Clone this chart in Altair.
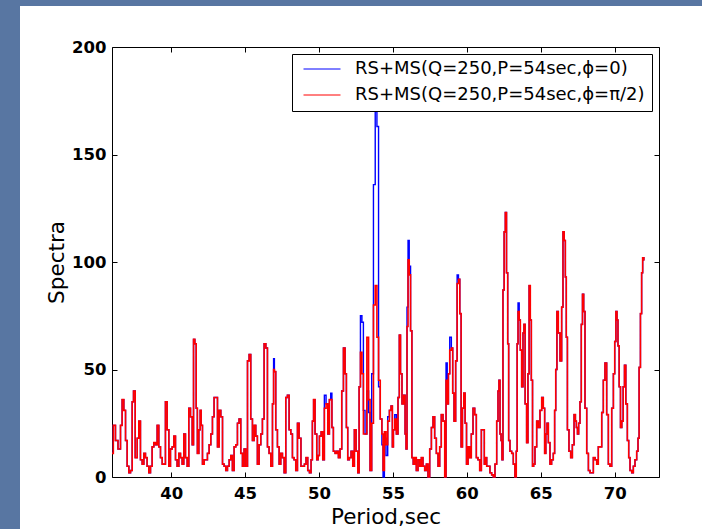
import altair as alt
import pandas as pd

# ---- data ----
period = [
    36.00, 36.18, 36.29, 36.52, 36.63, 36.74, 36.86, 36.97, 37.08, 37.20,
    37.31, 37.42, 37.49, 37.65, 37.76, 37.87, 37.98, 38.10, 38.21, 38.32,
    38.43, 38.55, 38.66, 38.77, 38.89, 39.00, 39.11, 39.22, 39.34, 39.45,
    39.56, 39.67, 39.79, 39.90, 40.01, 40.13, 40.24, 40.35, 40.46, 40.58,
    40.69, 40.80, 40.91, 41.03, 41.14, 41.25, 41.37, 41.48, 41.55, 41.66,
    41.73, 41.82, 41.93, 42.00, 42.06, 42.18, 42.29, 42.40, 42.51, 42.63,
    42.74, 42.85, 42.96, 43.08, 43.19, 43.30, 43.42, 43.53, 43.64, 43.75,
    43.87, 43.98, 44.09, 44.20, 44.32, 44.43, 44.54, 44.65, 44.77, 44.88,
    44.99, 45.11, 45.22, 45.33, 45.44, 45.56, 45.67, 45.78, 45.89, 46.01,
    46.12, 46.23, 46.35, 46.46, 46.57, 46.68, 46.80, 46.91, 46.95, 47.02,
    47.13, 47.25, 47.36, 47.47, 47.59, 47.70, 47.81, 47.92, 48.04, 48.15,
    48.26, 48.37, 48.49, 48.60, 48.71, 48.85, 48.96, 49.07, 49.18, 49.30,
    49.41, 49.52, 49.59, 49.68, 49.79, 49.91, 49.97, 50.09, 50.20, 50.31,
    50.42, 50.54, 50.65, 50.76, 50.83, 50.92, 51.03, 51.15, 51.26, 51.37,
    51.48, 51.60, 51.71, 51.82, 51.89, 52.00, 52.11, 52.23, 52.34, 52.45,
    52.57, 52.68, 52.75, 52.86, 52.95, 53.06, 53.17, 53.31, 53.40, 53.51,
    53.62, 53.75, 53.86, 53.98, 54.08, 54.21, 54.30, 54.37, 54.48, 54.59,
    54.71, 54.82, 54.93, 55.00, 55.07, 55.18, 55.29, 55.40, 55.47, 55.56,
    55.67, 55.79, 55.86, 55.92, 55.99, 56.06, 56.15, 56.24, 56.33, 56.42,
    56.53, 56.64, 56.76, 56.87, 56.98, 57.09, 57.21, 57.32, 57.43, 57.55,
    57.66, 57.77, 57.88, 58.00, 58.11, 58.22, 58.33, 58.45, 58.56, 58.63,
    58.72, 58.79, 58.90, 59.01, 59.08, 59.19, 59.30, 59.39, 59.48, 59.57,
    59.66, 59.75, 59.84, 59.93, 60.03, 60.14, 60.25, 60.36, 60.48, 60.59,
    60.70, 60.81, 60.93, 61.04, 61.15, 61.22, 61.29, 61.40, 61.51, 61.62,
    61.74, 61.85, 61.96, 62.08, 62.14, 62.21, 62.28, 62.35, 62.41, 62.48,
    62.57, 62.64, 62.73, 62.80, 62.86, 62.98, 63.09, 63.20, 63.31, 63.38,
    63.43, 63.50, 63.59, 63.65, 63.77, 63.83, 63.90, 63.99, 64.10, 64.17,
    64.26, 64.33, 64.40, 64.49, 64.55, 64.67, 64.78, 64.89, 65.01, 65.12,
    65.23, 65.30, 65.39, 65.46, 65.57, 65.68, 65.79, 65.91, 65.97, 66.06,
    66.13, 66.25, 66.36, 66.47, 66.54, 66.63, 66.70, 66.76, 66.85, 66.97,
    67.08, 67.20, 67.31, 67.38, 67.44, 67.53, 67.60, 67.71, 67.78, 67.87,
    67.94, 68.05, 68.17, 68.28, 68.39, 68.50, 68.62, 68.73, 68.84, 68.95,
    69.07, 69.18, 69.29, 69.40, 69.52, 69.63, 69.74, 69.86, 69.97, 70.04,
    70.13, 70.19, 70.26, 70.35, 70.44, 70.53, 70.62, 70.71, 70.80, 70.92,
    70.98, 71.10, 71.21, 71.32, 71.43, 71.55, 71.61, 71.70, 71.79, 71.86,
    71.93, 72.02,
]

# phi = 0 (blue)
spectra_phi0 = [
    11, 24, 17, 13, 24, 36, 31, 17, 5, 2,
    3, 35, 40, 9, 18, 26, 8, 6, 11, 9,
    5, 2, 5, 14, 16, 15, 24, 14, 9, 6,
    6, 35, 22, 5, 13, 14, 19, 8, 5, 11,
    9, 6, 20, 9, 5, 32, 28, 15, 64, 62,
    32, 11, 22, 31, 24, 6, 8, 8, 11, 15,
    20, 28, 37, 37, 14, 31, 28, 6, 5, 3,
    5, 8, 10, 3, 14, 15, 25, 27, 11, 5,
    13, 5, 54, 57, 27, 17, 24, 19, 6, 15,
    20, 27, 62, 60, 14, 11, 5, 34, 55, 49,
    22, 14, 6, 11, 9, 2, 37, 38, 22, 20,
    9, 8, 3, 25, 18, 5, 5, 6, 9, 3,
    2, 8, 26, 36, 20, 8, 10, 19, 21, 8,
    38, 34, 20, 36, 39, 23, 12, 11, 12, 9,
    13, 40, 60, 48, 23, 8, 9, 12, 5, 22,
    12, 2, 42, 75, 72, 31, 20, 40, 30, 3,
    48, 136, 170, 163, 42, 27, 15, 0, 18, 10,
    28, 31, 33, 14, 22, 29, 20, 37, 66, 48,
    34, 38, 20, 13, 79, 110, 98, 68, 9, 6,
    9, 3, 8, 5, 9, 5, 3, 6, 0, 13,
    23, 28, 18, 11, 5, 14, 29, 26, 0, 53,
    34, 48, 65, 60, 39, 26, 54, 94, 92, 76,
    14, 32, 39, 25, 6, 14, 9, 20, 32, 29,
    9, 8, 3, 22, 22, 6, 9, 5, 5, 2,
    1, 0, 6, 26, 40, 45, 20, 17, 8, 87,
    114, 123, 95, 62, 17, 12, 11, 6, 0, 12,
    62, 81, 73, 59, 42, 67, 71, 34, 16, 48,
    89, 73, 45, 5, 6, 14, 26, 23, 31, 37,
    32, 11, 20, 25, 16, 6, 8, 11, 31, 50,
    77, 67, 54, 79, 114, 110, 93, 65, 22, 12,
    9, 15, 29, 26, 23, 20, 25, 35, 71, 85,
    77, 32, 11, 3, 2, 2, 9, 8, 6, 14,
    14, 30, 45, 53, 29, 6, 5, 32, 48, 63,
    77, 73, 61, 42, 23, 26, 42, 52, 34, 17,
    9, 3, 2, 5, 8, 12, 18, 51, 76, 95,
    102, 101,
]

# phi = pi/2 (red)
spectra_phi_half_pi = [
    11, 24, 17, 13, 24, 36, 31, 17, 5, 2,
    3, 35, 40, 9, 18, 26, 8, 6, 11, 9,
    5, 2, 5, 14, 16, 15, 24, 14, 9, 6,
    6, 35, 22, 5, 13, 14, 19, 8, 5, 11,
    9, 6, 20, 9, 5, 32, 28, 15, 64, 62,
    32, 11, 22, 31, 24, 6, 8, 8, 11, 15,
    20, 28, 37, 37, 14, 31, 28, 6, 5, 3,
    5, 8, 10, 3, 14, 15, 25, 27, 11, 5,
    13, 5, 54, 57, 27, 17, 24, 19, 6, 15,
    20, 27, 62, 60, 14, 11, 5, 34, 50, 49,
    22, 14, 6, 11, 9, 2, 37, 38, 22, 20,
    9, 8, 3, 25, 18, 5, 5, 6, 9, 3,
    2, 8, 26, 36, 20, 8, 10, 19, 21, 8,
    32, 34, 20, 36, 36, 23, 12, 11, 12, 9,
    13, 40, 60, 48, 23, 8, 9, 12, 5, 22,
    12, 2, 42, 58, 48, 20, 20, 65, 36, 3,
    25, 80, 89, 65, 45, 27, 20, 3, 21, 15,
    26, 31, 33, 14, 22, 27, 20, 37, 66, 48,
    34, 38, 20, 13, 70, 101, 94, 68, 9, 6,
    9, 3, 8, 5, 9, 5, 3, 6, 0, 13,
    23, 28, 18, 11, 5, 14, 29, 26, 0, 45,
    34, 48, 59, 60, 39, 26, 54, 90, 92, 76,
    14, 32, 39, 25, 6, 14, 9, 20, 32, 29,
    9, 8, 3, 22, 22, 6, 9, 5, 5, 2,
    1, 0, 6, 26, 40, 45, 20, 17, 8, 87,
    114, 123, 95, 62, 17, 12, 11, 6, 0, 12,
    62, 77, 73, 59, 42, 67, 71, 34, 16, 48,
    89, 73, 45, 5, 6, 14, 26, 23, 31, 37,
    32, 11, 20, 25, 16, 6, 8, 11, 31, 50,
    77, 67, 54, 79, 114, 110, 93, 65, 22, 12,
    9, 15, 29, 26, 23, 20, 25, 35, 71, 85,
    77, 32, 11, 3, 2, 2, 9, 8, 6, 14,
    14, 30, 45, 53, 29, 6, 5, 32, 48, 63,
    77, 73, 61, 42, 23, 26, 42, 52, 34, 17,
    9, 3, 2, 5, 8, 12, 18, 51, 76, 95,
    102, 101,
]

series_names = ["RS+MS(Q=250,P=54sec,ϕ=0)", "RS+MS(Q=250,P=54sec,ϕ=π/2)"]
series_colors = ["#0000ff", "#ff0000"]
x_tick_values = [40, 45, 50, 55, 60, 65, 70]
y_tick_values = [0, 50, 100, 150, 200]
x_domain = [36, 73]
y_domain = [0, 200]

assert len(spectra_phi0) == len(period) == len(spectra_phi_half_pi)

df_blue = pd.DataFrame({"period": period, "spectra": spectra_phi0, "series": series_names[0]})
df_red = pd.DataFrame({"period": period, "spectra": spectra_phi_half_pi, "series": series_names[1]})
df_one = pd.DataFrame({"k": [0]})

# ---- layout / style ----
W, H = 547, 430
PAD = {"left": 112, "top": 47, "right": 43, "bottom": 52}
SLIDE_BLUE = "#5876a2"
FONT = "DejaVu Sans"

x_scale = alt.Scale(domain=x_domain, nice=False, zero=False)
y_scale = alt.Scale(domain=y_domain, nice=False)
color_scale = alt.Scale(domain=series_names, range=series_colors)

tick_common = dict(tickColor="black", tickWidth=1, tickSize=5, offset=-5,
                   domain=False, grid=False, zindex=1)

x_bottom = alt.Axis(orient="bottom", values=x_tick_values, labelFont=FONT,
                    labelFontSize=16.5, labelFontWeight="bold", labelColor="black",
                    labelPadding=8, title="Period,sec", titleFont=FONT,
                    titleFontSize=21.5, titleFontWeight="normal", titleColor="black",
                    titlePadding=5, **tick_common)
y_left = alt.Axis(orient="left", values=y_tick_values, labelFont=FONT,
                  labelFontSize=16.5, labelFontWeight="bold", labelColor="black",
                  labelPadding=6, title="Spectra", titleFont=FONT,
                  titleFontSize=21.5, titleFontWeight="normal", titleColor="black",
                  titlePadding=3.5, **tick_common)
x_top = alt.Axis(orient="top", values=x_tick_values, labels=False, title=None, **tick_common)
y_right = alt.Axis(orient="right", values=y_tick_values, labels=False, title=None, **tick_common)

legend = alt.Legend(title=None, orient="none", legendX=180, legendY=7,
                    direction="vertical", strokeColor="black", fillColor="white",
                    padding=7, symbolType="stroke", symbolSize=1369,
                    symbolStrokeWidth=1, symbolOffset=4, clipHeight=16,
                    rowPadding=8, labelOffset=14, labelFont=FONT, labelFontSize=18,
                    labelColor="black", labelLimit=500, zindex=2)

strip_left = alt.Chart(df_one).mark_rect(color=SLIDE_BLUE).encode(
    x=alt.value(-112), x2=alt.value(-92), y=alt.value(-47), y2=alt.value(482))
strip_top = alt.Chart(df_one).mark_rect(color=SLIDE_BLUE).encode(
    x=alt.value(-112), x2=alt.value(590), y=alt.value(-47), y2=alt.value(-41))

blue = alt.Chart(df_blue).mark_line(interpolate="step", strokeWidth=1.4).encode(
    x=alt.X("period:Q", scale=x_scale, axis=x_bottom),
    y=alt.Y("spectra:Q", scale=y_scale, axis=y_left),
    color=alt.Color("series:N", scale=color_scale, legend=legend),
)
red = alt.Chart(df_red).mark_line(interpolate="step", strokeWidth=1.6).encode(
    x=alt.X("period:Q", scale=x_scale, axis=None),
    y=alt.Y("spectra:Q", scale=y_scale, axis=None),
    color=alt.Color("series:N", scale=color_scale, legend=legend),
)
frame_ticks = alt.Chart(df_red).mark_line(opacity=0).encode(
    x=alt.X("period:Q", scale=x_scale, axis=x_top),
    y=alt.Y("spectra:Q", scale=y_scale, axis=y_right),
)

chart = (
    alt.layer(strip_left, strip_top, blue, red, frame_ticks)
    .resolve_axis(x="independent", y="independent")
    .properties(width=W, height=H, padding=PAD, background="white",
                autosize=alt.AutoSizeParams(type="none"))
    .configure_view(stroke="black", strokeWidth=1)
)

chart.save("out.html", embed_options={"renderer": "svg", "actions": False})
